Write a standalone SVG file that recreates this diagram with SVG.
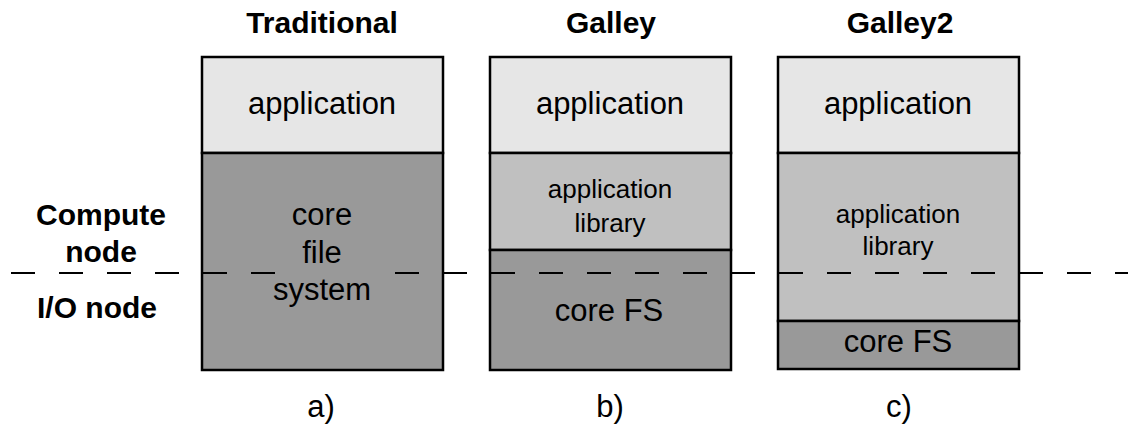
<svg xmlns="http://www.w3.org/2000/svg" width="1128" height="427" viewBox="0 0 1128 427">
<style>
.t{font-family:"Liberation Sans",Arial,sans-serif;fill:#000;text-anchor:middle}
.b{font-weight:bold;font-size:30px}
.l{font-size:31px}
.m{font-size:26px}
.box{stroke:#000;stroke-width:2.5}
.app{fill:#e6e6e6}
.lib{fill:#c0c0c0}
.core{fill:#999999}
</style>
<rect width="1128" height="427" fill="#fff"/>
<g id="titles">
<text class="t b" x="322" y="33">Traditional</text>
<text class="t b" x="611" y="33">Galley</text>
<text class="t b" x="900" y="33">Galley2</text>
</g>
<g id="side-labels">
<text class="t b" x="101" y="225">Compute</text>
<text class="t b" x="101" y="262">node</text>
<text class="t b" x="97" y="318">I/O node</text>
</g>
<g id="node-a">
<rect class="box app" x="202" y="57" width="241" height="96"/>
<rect class="box core" x="202" y="153" width="241" height="217"/>
<text class="t l" x="322" y="114">application</text>
</g>
<g id="node-b">
<rect class="box app" x="490" y="57" width="241" height="96"/>
<rect class="box lib" x="490" y="153" width="241" height="97"/>
<rect class="box core" x="490" y="250" width="241" height="120"/>
<text class="t l" x="610" y="114">application</text>
<text class="t m" x="610" y="198">application</text>
<text class="t m" x="610" y="232">library</text>
</g>
<g id="node-c">
<rect class="box app" x="778" y="57" width="241" height="96"/>
<rect class="box lib" x="778" y="153" width="241" height="168"/>
<rect class="box core" x="778" y="321" width="241" height="48"/>
<text class="t l" x="898" y="114">application</text>
<text class="t m" x="898" y="223">application</text>
<text class="t m" x="898" y="255">library</text>
<text class="t l" x="898" y="352">core FS</text>
</g>
<g id="connectors">
<line x1="11" y1="273" x2="1128" y2="273" stroke="#000" stroke-width="2" stroke-dasharray="24 24"/>
</g>
<g id="node-a-labels">
<rect x="288" y="264" width="88" height="18" fill="#999999"/>
<text class="t l" x="322" y="225">core</text>
<text class="t l" x="322" y="263">file</text>
<text class="t l" x="322" y="300">system</text>
</g>
<g id="node-b-labels">
<text class="t l" x="609" y="321">core FS</text>
</g>
<g id="captions">
<text class="t l" x="321" y="417">a)</text>
<text class="t l" x="610" y="417">b)</text>
<text class="t l" x="899" y="417">c)</text>
</g>
</svg>
